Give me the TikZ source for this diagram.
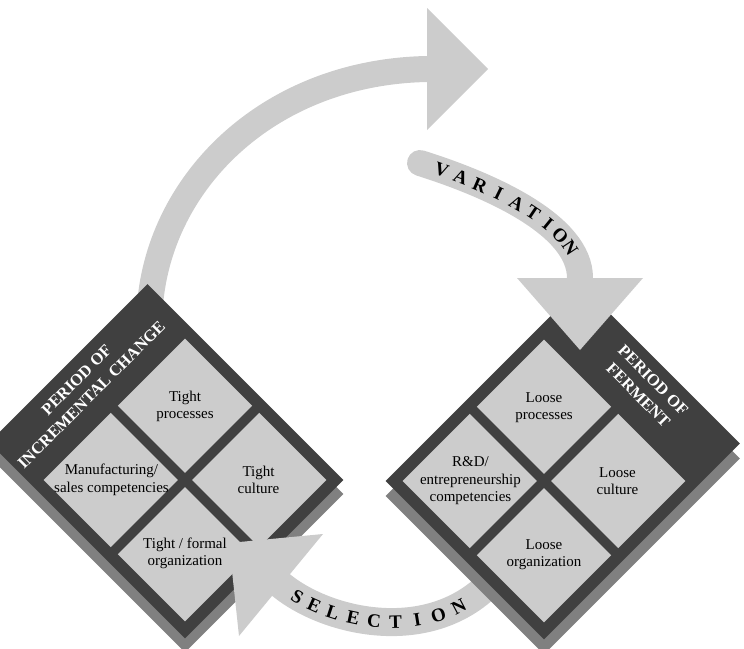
\documentclass[tikz,border=0pt]{standalone}
\usepackage{fontspec}
\setmainfont{Liberation Serif}
\usepackage{tikz}
\usetikzlibrary{calc}

\definecolor{arrowgrey}{gray}{0.80}
\definecolor{cellgrey}{gray}{0.80}
\definecolor{rimgrey}{gray}{0.25}
\definecolor{slabgrey}{gray}{0.50}

\begin{document}
\begin{tikzpicture}[
  x=1pt,y=-1pt,
  shaft/.style={draw=arrowgrey, line width=26pt, line cap=round},
  headfill/.style={fill=arrowgrey},
  rimfill/.style={fill=rimgrey},
  slabfill/.style={fill=slabgrey},
  cellfill/.style={fill=cellgrey},
  celltext/.style={align=center, inner sep=0pt, font=\fontsize{15}{17.5}\selectfont},
  bandtext/.style={align=center, inner sep=0pt, text=white, font=\bfseries\fontsize{16.5}{21}\selectfont},
  letter/.style={sloped, inner sep=0pt, font=\bfseries\fontsize{19}{19}\selectfont}
]
\useasboundingbox (0,0) rectangle (744,648);
\clip (0,0) rectangle (744,648);

% Upper arrow, runs behind the left diamond.
\coordinate (upfoot) at (150,305);
\coordinate (upbase) at (427,69);
\coordinate (uptip) at (488,69);
\draw[shaft] (upfoot) .. controls (160,180) and (270,72) .. (upbase);
\fill[headfill] ($(upbase)+(0,-61)$) -- (uptip) -- ($(upbase)+(0,61)$) -- cycle;

% Left diamond: period of incremental change.
\begin{scope}[shift={(185,494)}, rotate=45]
  \fill[slabfill] (-112,-165) rectangle (112,112);
\end{scope}
\begin{scope}[shift={(185,480)}, rotate=45]
  \fill[rimfill] (-112,-165) rectangle (112,112);
  \foreach \su in {-1,1}
    \foreach \sv in {-1,1}
      \fill[cellfill] (5*\su,5*\sv) rectangle (100*\su,100*\sv);
  \node[celltext] (tightproc) at (52,-52) {Tight\\processes};
  \node[celltext] (tightcult) at (52,52) {Tight\\culture};
  \node[celltext] (tightorg) at (-52,52) {Tight / formal\\organization};
  \node[celltext] (manufact) at (-52,-52) {Manufacturing/\\sales competencies};
  \node[bandtext, rotate=45] (incremental) at (-6,-137) {PERIOD OF\\INCREMENTAL CHANGE};
\end{scope}

% Selection arrow, from under the right diamond into the left one.
\coordinate (selfoot) at (500,572);
\coordinate (selbase) at (281,585);
\coordinate (seltip) at (229,543);
\draw[shaft, line width=28pt] (selfoot) .. controls (440,648) and (330,625) .. (selbase);
\fill[headfill] ($(selbase)+(42,-51)$) -- (seltip) -- ($(selbase)+(-42,51)$) -- cycle;

% Right diamond: period of ferment.
\begin{scope}[shift={(544,496)}, rotate=45]
  \fill[slabfill] (-112,-112) rectangle (165,112);
\end{scope}
\begin{scope}[shift={(544,481)}, rotate=45]
  \fill[rimfill] (-112,-112) rectangle (165,112);
  \foreach \su in {-1,1}
    \foreach \sv in {-1,1}
      \fill[cellfill] (5*\su,5*\sv) rectangle (100*\su,100*\sv);
  \node[celltext] (looseproc) at (52,-52) {Loose\\processes};
  \node[celltext] (loosecult) at (52,52) {Loose\\culture};
  \node[celltext] (looseorg) at (-52,52) {Loose\\organization};
  \node[celltext] (randd) at (-52,-52) {R\&D/\\entrepreneurship\\competencies};
  \node[bandtext, rotate=-45] (ferment) at (138,6) {PERIOD OF\\FERMENT};
\end{scope}

% Variation arrow, down onto the right diamond.
\coordinate (varfoot) at (420,163);
\coordinate (varbase) at (580,278);
\coordinate (vartip) at (580,350);
\draw[shaft] (varfoot) .. controls (490,185) and (580,225) .. (varbase);
\fill[headfill] ($(varbase)+(-63,0)$) -- (vartip) -- ($(varbase)+(63,0)$) -- cycle;

% Lettering along the bands.
\path (varfoot) .. controls (490,185) and (580,225) .. (varbase)
  foreach \ch/\p [count=\k] in {V/0.1,A/0.1875,R/0.275,I/0.3625,A/0.45,T/0.5375,I/0.625,O/0.7125,N/0.8}
    {node[letter, pos=\p] (var\k) {\ch}};
\path (selbase) .. controls (330,625) and (440,648) .. (selfoot)
  foreach \ch/\p [count=\k] in {S/0.1,E/0.1875,L/0.275,E/0.3625,C/0.45,T/0.5375,I/0.625,O/0.7125,N/0.8}
    {node[letter, pos=\p] (sel\k) {\ch}};
\end{tikzpicture}
\end{document}
